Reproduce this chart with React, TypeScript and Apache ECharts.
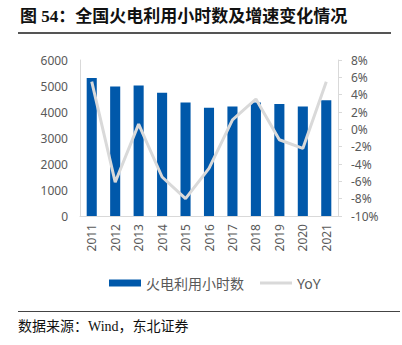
import React, { useEffect, useRef } from "react";
import * as echarts from "echarts";

const years = ["2011", "2012", "2013", "2014", "2015", "2016", "2017", "2018", "2019", "2020", "2021"];
const hours = [5305, 4982, 5021, 4739, 4364, 4165, 4209, 4361, 4307, 4216, 4448];
const yoy = [5.5, -6.1, 0.6, -5.5, -8.0, -4.5, 1.1, 3.5, -1.2, -2.2, 5.5];
const leftTicks = [0, 1000, 2000, 3000, 4000, 5000, 6000];
const rightTicks = [-10, -8, -6, -4, -2, 0, 2, 4, 6, 8];

const titleText = "图 54：全国火电利用小时数及增速变化情况";
const sourceText = "数据来源：Wind，东北证券";
const barName = "火电利用小时数";
const lineName = "YoY";

export default function App() {
  const ref = useRef<HTMLDivElement>(null);
  useEffect(() => {
    const chart = echarts.init(ref.current!, null, { renderer: "svg" });
    const numFont = '"Noto Sans", "Noto Sans CJK SC", sans-serif';
    const serifFont = '"Liberation Serif", "Noto Sans CJK SC", serif';
    chart.setOption({
      animation: false,
      backgroundColor: "#ffffff",
      grid: { left: 80, right: 64, top: 60, bottom: 129 },
      legend: {
        left: 104,
        top: 271,
        itemWidth: 32,
        itemHeight: 7,
        itemGap: 16,
        textStyle: { color: "#595959", fontSize: 14, fontFamily: numFont },
        data: [
          { name: barName, icon: "rect" },
          {
            name: lineName,
            icon: "path://M0,0 L0,0 M0,2 L32,2 L32,5 L0,5 Z M32,7 L32,7",
            itemStyle: { color: "#D9D9D9" },
          },
        ],
      },
      xAxis: {
        type: "category",
        data: years,
        axisLine: { lineStyle: { color: "#D9D9D9", width: 1 } },
        axisTick: { show: false },
        axisLabel: { rotate: 90, color: "#595959", fontSize: 12, fontFamily: numFont, margin: 8, interval: 0 },
      },
      yAxis: [
        {
          type: "value",
          min: leftTicks[0],
          max: leftTicks[leftTicks.length - 1],
          interval: 1000,
          axisLine: { show: true, lineStyle: { color: "#D9D9D9" } },
          axisTick: { show: false },
          splitLine: { show: false },
          axisLabel: { color: "#595959", fontSize: 12, fontFamily: numFont, margin: 12, formatter: (v: number) => String(v) },
        },
        {
          type: "value",
          min: rightTicks[0],
          max: rightTicks[rightTicks.length - 1],
          interval: 2,
          axisLine: { show: true, lineStyle: { color: "#D9D9D9" } },
          axisTick: { show: true, inside: false, length: 4, lineStyle: { color: "#D9D9D9" } },
          splitLine: { show: false },
          axisLabel: { color: "#595959", fontSize: 12, fontFamily: numFont, margin: 13, formatter: "{value}%" },
        },
      ],
      series: [
        {
          name: barName,
          type: "bar",
          data: hours,
          barWidth: "43%",
          itemStyle: { color: "#0058AA" },
        },
        {
          name: lineName,
          type: "line",
          yAxisIndex: 1,
          data: yoy,
          symbol: "none",
          lineStyle: { color: "#D9D9D9", width: 3 },
          itemStyle: { color: "#D9D9D9" },
        },
      ],
      graphic: [
        {
          type: "text",
          left: 20,
          top: 8,
          style: { text: titleText, fontSize: 17, fontWeight: "bold", fontFamily: serifFont, fill: "#111111" },
        },
        {
          type: "line",
          shape: { x1: 18, y1: 33, x2: 391, y2: 33 },
          style: { stroke: "#555555", lineWidth: 2 },
        },
        {
          type: "line",
          shape: { x1: 18, y1: 311.5, x2: 400, y2: 311.5 },
          style: { stroke: "#444444", lineWidth: 1 },
        },
        {
          type: "text",
          left: 18,
          top: 319,
          style: { text: sourceText, fontSize: 14, fontFamily: serifFont, fill: "#111111" },
        },
      ],
    });
    return () => chart.dispose();
  }, []);
  return (
    <div
      ref={ref}
      style={{ position: "fixed", left: 0, top: 0, width: 402, height: 345, background: "#fff" }}
    />
  );
}
